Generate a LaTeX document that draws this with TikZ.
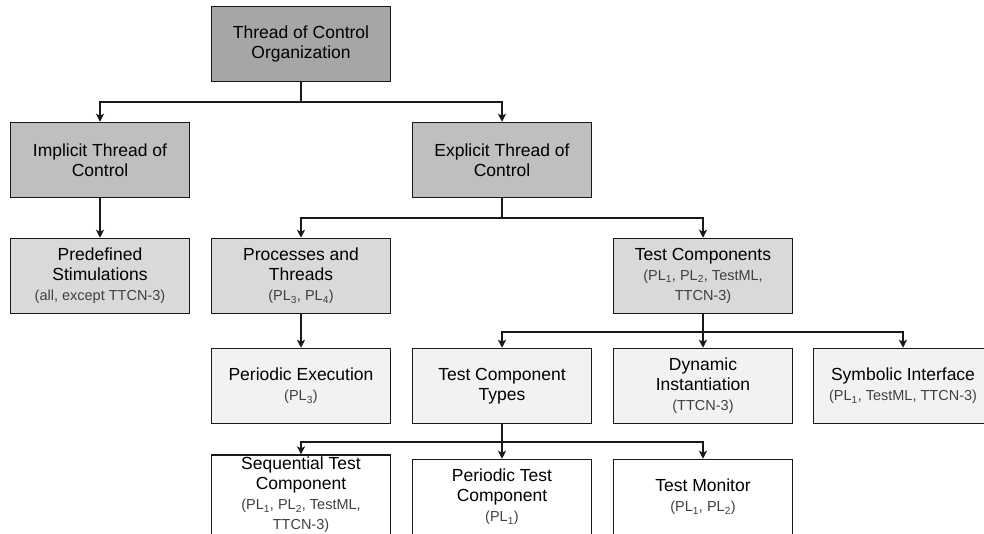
\documentclass[tikz,border=0pt]{standalone}
\usepackage{fontspec}
\setmainfont{Liberation Sans}
\usetikzlibrary{arrows.meta}

\definecolor{rootgray}{HTML}{A6A6A6}
\definecolor{midgray}{HTML}{BFBFBF}
\definecolor{lightgray}{HTML}{D9D9D9}
\definecolor{palegray}{HTML}{F2F2F2}
\definecolor{notegray}{HTML}{404040}

\newcommand{\plnote}[1]{{\fontsize{14.5}{16.5}\selectfont\color{notegray}#1}}
\newcommand{\PL}[1]{PL\textsubscript{#1}}

\tikzset{
	box/.style={draw=black!90, line width=1.5pt, minimum width=179pt, minimum height=75pt,
		align=center, inner sep=2pt, font=\fontsize{17.5}{20}\selectfont},
	link/.style={draw=black!90, line width=1.5pt},
	arr/.style={link, -{Stealth[length=8pt, width=8pt, inset=2pt]}}
}

\begin{document}
\begin{tikzpicture}[x=1pt, y=1pt]
			\clip (0,0) rectangle (984,-533);

			% levels 0 and 1
			\node[box, fill=rootgray] (root) at (301,-44) {Thread of Control\\Organization};
			\node[box, fill=midgray] (implicit) at (100,-160) {Implicit Thread of\\Control};
			\node[box, fill=midgray] (explicit) at (502,-160) {Explicit Thread of\\Control};

			% level 2
			\node[box, fill=lightgray] (predef) at (100,-276) {Predefined\\Stimulations\\\plnote{(all, except TTCN-3)}};
			\node[box, fill=lightgray] (procs) at (301,-276) {Processes and\\Threads\\\plnote{(\PL{3}, \PL{4})}};
			\node[box, fill=lightgray] (testcomp) at (703,-276) {Test Components\\\plnote{(\PL{1}, \PL{2}, TestML,}\\\plnote{TTCN-3)}};

			% level 3
			\node[box, fill=palegray] (periodic) at (301,-386) {Periodic Execution\\\plnote{(\PL{3})}};
			\node[box, fill=palegray] (tctypes) at (502,-386) {Test Component\\Types};
			\node[box, fill=palegray] (dyninst) at (703,-386) {Dynamic\\Instantiation\\\plnote{(TTCN-3)}};
			\node[box, fill=palegray] (symbolic) at (903,-386) {Symbolic Interface\\\plnote{(\PL{1}, TestML, TTCN-3)}};

			% level 4
			\node[box, fill=white] (seqtc) at (301,-495) {Sequential Test\\Component\\\plnote{(\PL{1}, \PL{2}, TestML,}\\\plnote{TTCN-3)}};
			\node[box, fill=white] (pertc) at (502,-497) {Periodic Test\\Component\\\plnote{(\PL{1})}};
			\node[box, fill=white] (testmon) at (703,-497) {Test Monitor\\\plnote{(\PL{1}, \PL{2})}};

			% bus points
			\coordinate (bus1) at (301,-102);
			\coordinate (bus2) at (502,-218);
			\coordinate (bus3) at (703,-332);
			\coordinate (bus4) at (502,-442);

			\draw[link] (root.south) -- (bus1);
			\draw[arr] (bus1) -| (implicit.north);
			\draw[arr] (bus1) -| (explicit.north);

			\draw[arr] (implicit.south) -- (predef.north);

			\draw[link] (explicit.south) -- (bus2);
			\draw[arr] (bus2) -| (procs.north);
			\draw[arr] (bus2) -| (testcomp.north);

			\draw[arr] (procs.south) -- (periodic.north);

			\draw[link] (testcomp.south) -- (bus3);
			\draw[arr] (bus3) -| (tctypes.north);
			\draw[arr] (bus3) -- (dyninst.north);
			\draw[arr] (bus3) -| (symbolic.north);

			\draw[link] (tctypes.south) -- (bus4);
			\draw[arr] (bus4) -| (seqtc.north);
			\draw[arr] (bus4) -- (pertc.north);
			\draw[arr] (bus4) -| (testmon.north);
		\end{tikzpicture}
\end{document}
